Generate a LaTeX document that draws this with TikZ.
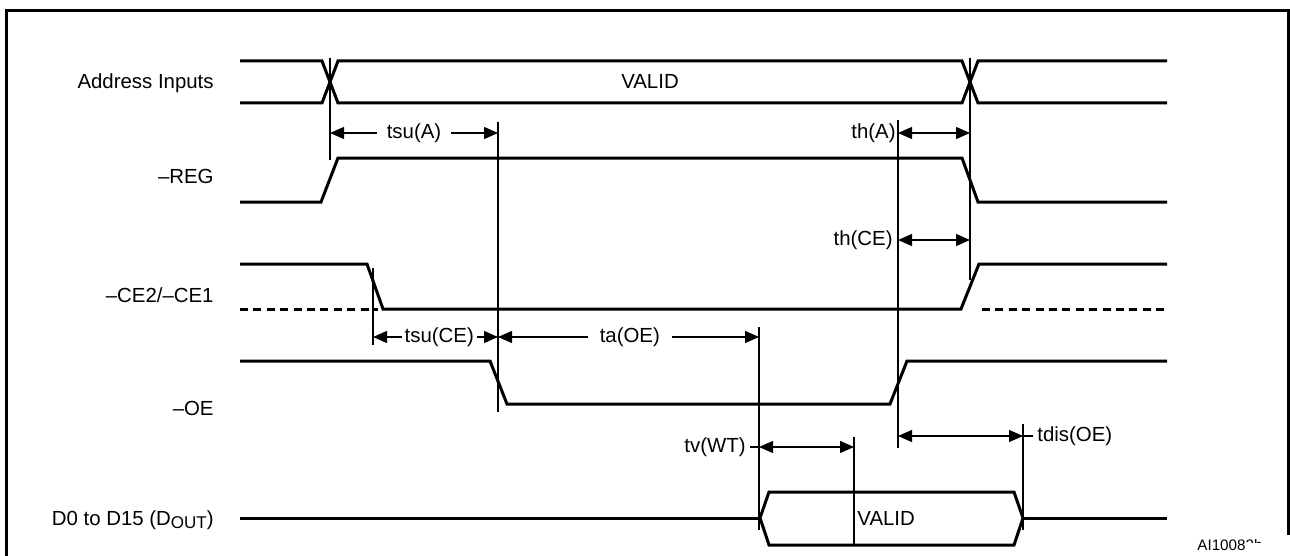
\documentclass[tikz,border=0pt]{standalone}
\usepackage{fontspec}
\setmainfont{Liberation Sans}
\usetikzlibrary{arrows.meta}
\begin{document}
\begin{tikzpicture}[x=0.5pt,y=-0.5pt,
    sig/.style={line width=1.5pt,line join=miter},
    thin/.style={line width=0.6pt},
    dim/.style={line width=0.6pt,{Triangle[length=7pt,width=6pt]}-{Triangle[length=7pt,width=6pt]}},
    lbl/.style={font=\fontsize{10.2}{12}\selectfont,inner sep=0pt}]
    \useasboundingbox (0,0) rectangle (1290,556);
    % frame
    \draw[line width=1.5pt] (1288,535) -- (1288,11) -- (6,11) -- (6,556);
    % signal names
    \node[lbl,anchor=base east] (addr) at (214,89) {Address Inputs};
    \node[lbl,anchor=base east] (reg) at (214,184) {–REG};
    \node[lbl,anchor=base east] (ce) at (214,302) {–CE2/–CE1};
    \node[lbl,anchor=base east] (oe) at (214,415) {–OE};
    \node[lbl,anchor=base east] (dout) at (214,525) {D0 to D15 (D\raisebox{-0.35ex}{\fontsize{8.5}{10}\selectfont OUT})};
    % waveforms
    \draw[sig] (240,61) -- (322,61) -- (338,103) -- (962,103) -- (978,61) -- (1167,61);
    \draw[sig] (240,103) -- (322,103) -- (338,61) -- (962,61) -- (978,103) -- (1167,103);
    \node[lbl,anchor=base] (avalid) at (650,89) {VALID};
    \draw[sig] (240,202) -- (321,202) -- (338,158) -- (962,158) -- (978,202) -- (1167,202);
    \draw[sig] (240,264) -- (367,264) -- (383,309) -- (961,309) -- (979,264) -- (1167,264);
    \draw[sig,dash pattern=on 4pt off 2.7pt] (240,309) -- (378,309);
    \draw[sig,dash pattern=on 4pt off 2.7pt] (982,309) -- (1165,309);
    \draw[sig] (240,361) -- (490,361) -- (507,404) -- (890,404) -- (907,361) -- (1167,361);
    \draw[sig] (240,518) -- (760,518);
    \draw[sig] (760,518) -- (769,492) -- (1014,492) -- (1023,518) -- (1014,545) -- (769,545) -- cycle;
    \draw[sig] (1023,518) -- (1167,518);
    \node[lbl,anchor=base west] (dvalid) at (857,525) {VALID};
    % timing marks
    \draw[thin] (330,58) -- (330,160);
    \draw[thin] (498,122) -- (498,412);
    \draw[thin] (898,120) -- (898,448);
    \draw[thin] (970,58) -- (970,280);
    \draw[thin] (373,268) -- (373,345);
    \draw[thin] (759,327) -- (759,530);
    \draw[thin] (854,437) -- (854,545);
    \draw[thin] (1023,424) -- (1023,530);
    % timing parameters
    \coordinate (tsuA1) at (330,133); \coordinate (tsuA2) at (498,133);
    \draw[dim] (tsuA1) -- node[lbl,fill=white,inner xsep=5pt] (tsuA) {tsu(A)} (tsuA2);
    \coordinate (thA1) at (898,133); \coordinate (thA2) at (970,133);
    \draw[dim] (thA1) -- (thA2);
    \node[lbl,anchor=east] (thA) at (896,133) {th(A)};
    \coordinate (thCE1) at (898,240); \coordinate (thCE2) at (970,240);
    \draw[dim] (thCE1) -- (thCE2);
    \node[lbl,anchor=east] (thCE) at (893,240) {th(CE)};
    \coordinate (tsuCE1) at (373,337); \coordinate (tsuCE2) at (498,337);
    \draw[dim] (tsuCE1) -- node[lbl,pos=0.53,fill=white,inner xsep=1.5pt] (tsuCE) {tsu(CE)} (tsuCE2);
    \coordinate (taOE1) at (498,337); \coordinate (taOE2) at (759,337);
    \draw[dim] (taOE1) -- node[lbl,pos=0.505,fill=white,inner xsep=6pt] (taOE) {ta(OE)} (taOE2);
    \coordinate (tvWT1) at (759,447); \coordinate (tvWT2) at (854,447);
    \node[lbl,anchor=east] (tvWT) at (746,447) {tv(WT)};
    \draw[thin] ([xshift=2pt]tvWT.east) -- (tvWT1);
    \draw[dim] (tvWT1) -- (tvWT2);
    \coordinate (tdis1) at (898,436); \coordinate (tdis2) at (1023,436);
    \node[lbl,anchor=west] (tdis) at (1037,436) {tdis(OE)};
    \draw[dim] (tdis1) -- (tdis2);
    \draw[thin] (tdis2) -- ([xshift=-2pt]tdis.west);
    % drawing code
    \begin{scope}
        \clip (1190,520) rectangle (1245,556) (1245,520) rectangle (1290,542);
        \node[font=\fontsize{7.6}{9}\selectfont,inner sep=0pt,anchor=base west] (code) at (1197,550) {AI10083b};
    \end{scope}
\end{tikzpicture}
\end{document}
